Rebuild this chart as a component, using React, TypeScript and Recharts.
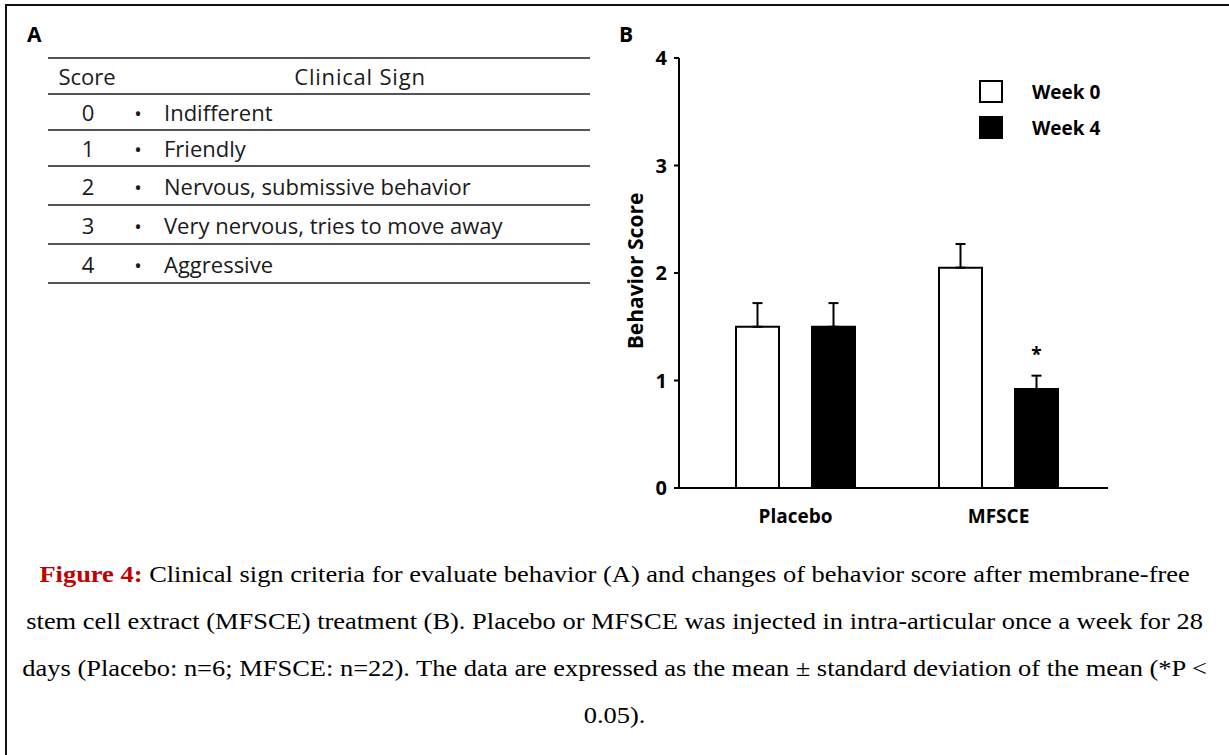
import React from 'react';
import { BarChart, Bar, XAxis, YAxis, ErrorBar, LabelList, Legend } from 'recharts';

// ---------- data ----------
const categories = ['Placebo', 'MFSCE'];
const week0Mean = [1.5, 2.05];
const week0SD = [0.22, 0.22];
const week4Mean = [1.5, 0.92];
const week4SD = [0.22, 0.125];
const significance = ['', '*'];
const yTicks = [0, 1, 2, 3, 4];
const seriesNames = ['Week 0', 'Week 4'];

const tableScores = ['0', '1', '2', '3', '4'];
const tableSigns = [
  'Indifferent',
  'Friendly',
  'Nervous, submissive behavior',
  'Very nervous, tries to move away',
  'Aggressive',
];

const captionLines = [
  'Clinical sign criteria for evaluate behavior (A) and changes of behavior score after membrane-free',
  'stem cell extract (MFSCE) treatment (B). Placebo or MFSCE was injected in intra-articular once a week for 28',
  'days (Placebo: n=6; MFSCE: n=22). The data are expressed as the mean \u00b1 standard deviation of the mean (*P <',
  '0.05).',
];

const data = categories.map((name, i) => ({
  name,
  w0: week0Mean[i],
  w0err: [0, week0SD[i]],
  w4: week4Mean[i],
  w4err: [0, week4SD[i]],
  sig: significance[i],
}));

const SANS = '"Open Sans", "Noto Sans", sans-serif';

const lineYs = [58, 94, 130, 166, 205, 244, 283];

const XTick = (props: any) => {
  const { x, payload } = props;
  return (
    <text x={x} y={523} textAnchor="middle" fontFamily={SANS} fontWeight={700} fontSize={19} fill="#000">
      {payload.value}
    </text>
  );
};

const LegendContent = () => (
  <div style={{ fontFamily: SANS, fontWeight: 700, fontSize: 19 }}>
    {seriesNames.map((n, i) => (
      <div key={n} style={{ position: 'relative', height: 36 }}>
        <div
          style={{
            position: 'absolute',
            left: 0,
            top: 0,
            width: 24,
            height: 23,
            boxSizing: 'border-box',
            border: '2px solid #000',
            background: i === 0 ? '#fff' : '#000',
          }}
        />
        <div style={{ position: 'absolute', left: 53, top: 0, lineHeight: '24px', color: '#000' }}>{n}</div>
      </div>
    ))}
  </div>
);

const SigLabel = (props: any) => {
  const { x, y, width, value } = props;
  if (!value) return null;
  return (
    <text x={x + width / 2} y={y - 28} textAnchor="middle" fontFamily={SANS} fontWeight={700} fontSize={19} fill="#000">
      {value}
    </text>
  );
};

const YLabel = () => (
  <text
    x={43}
    y={271}
    transform="rotate(-90, 43, 271)"
    textAnchor="middle"
    fontFamily={SANS}
    fontWeight={700}
    fontSize={21}
    fill="#000"
  >
    Behavior Score
  </text>
);

export default function App() {
  return (
    <div
      style={{
        position: 'absolute',
        left: 0,
        top: 0,
        width: 1229,
        height: 755,
        overflow: 'hidden',
        background: '#fff',
      }}
    >
      {/* frame */}
      <div
        style={{
          position: 'absolute',
          left: 5,
          top: 4,
          width: 1300,
          height: 900,
          borderLeft: '2px solid #111',
          borderTop: '2px solid #111',
        }}
      />

      {/* panel A and panel labels */}
      <svg style={{ position: 'absolute', left: 0, top: 0 }} width={700} height={300}>
        <text x={27} y={42} fontFamily={SANS} fontWeight={700} fontSize={21} fill="#000">A</text>
        <text x={619} y={42} fontFamily={SANS} fontWeight={700} fontSize={21} fill="#000">B</text>
        {lineYs.map((y) => (
          <line key={y} x1={48} x2={590} y1={y} y2={y} stroke="#555" strokeWidth={2} />
        ))}
        <text x={87} y={85} textAnchor="middle" fontFamily={SANS} fontSize={22} fill="#1a1a1a">Score</text>
        <text x={360} y={85} textAnchor="middle" fontFamily={SANS} fontSize={22} fill="#1a1a1a" letterSpacing={0.8}>Clinical Sign</text>
        {tableScores.map((s, i) => {
          const cy = (lineYs[i + 1] + lineYs[i + 2]) / 2 + 9;
          return (
            <g key={s}>
              <text x={88} y={cy} textAnchor="middle" fontFamily={SANS} fontSize={22} fill="#1a1a1a">{s}</text>
              <text x={138} y={cy} textAnchor="middle" fontFamily={SANS} fontSize={20} fill="#1a1a1a">{'\u2022'}</text>
              <text x={164} y={cy} fontFamily={SANS} fontSize={22} fill="#1a1a1a">{tableSigns[i]}</text>
            </g>
          );
        })}
      </svg>

      {/* panel B chart */}
      <div style={{ position: 'absolute', left: 600, top: 0 }}>
        <BarChart
          width={540}
          height={540}
          data={data}
          margin={{ top: 58, right: 32, bottom: 22, left: 0 }}
          barSize={43}
          barGap={33}
        >
          <XAxis
            dataKey="name"
            axisLine={{ stroke: '#000', strokeWidth: 2 }}
            tickLine={false}
            tick={<XTick />}
            height={30}
            padding={{ left: 15, right: 8 }}
            interval={0}
          />
          <YAxis
            domain={[0, 4]}
            ticks={yTicks}
            width={79}
            axisLine={{ stroke: '#000', strokeWidth: 2 }}
            tickLine={{ stroke: '#000', strokeWidth: 2 }}
            tickSize={5}
            tickMargin={7}
            tick={{ fill: '#000', fontSize: 20, fontWeight: 700, fontFamily: SANS }}
            label={<YLabel />}
          />
          <Legend
            layout="vertical"
            align="center"
            verticalAlign="middle"
            content={<LegendContent />}
            wrapperStyle={{ position: 'absolute', left: 379, top: 80, width: 160 }}
          />
          <Bar dataKey="w0" name={seriesNames[0]} fill="#fff" stroke="#000" strokeWidth={2} isAnimationActive={false}>
            <ErrorBar dataKey="w0err" width={5} stroke="#000" strokeWidth={2} direction="y" />
          </Bar>
          <Bar dataKey="w4" name={seriesNames[1]} fill="#000" stroke="#000" strokeWidth={2} isAnimationActive={false}>
            <ErrorBar dataKey="w4err" width={5} stroke="#000" strokeWidth={2} direction="y" />
            <LabelList dataKey="sig" content={<SigLabel />} />
          </Bar>
        </BarChart>
      </div>

      {/* caption */}
      <div
        style={{
          position: 'absolute',
          left: 0,
          top: 551,
          width: 1229,
          textAlign: 'center',
          fontFamily: '"Liberation Serif", "Times New Roman", serif',
          fontSize: 23,
          lineHeight: '47px',
          color: '#000',
          transform: 'scaleX(1.15)',
          transformOrigin: '614px 0',
        }}
      >
        {captionLines.map((l, i) => (
          <div key={i} style={{ whiteSpace: 'nowrap' }}>
            {i === 0 && <b style={{ color: '#c00000' }}>Figure 4: </b>}
            {l}
          </div>
        ))}
      </div>
    </div>
  );
}
